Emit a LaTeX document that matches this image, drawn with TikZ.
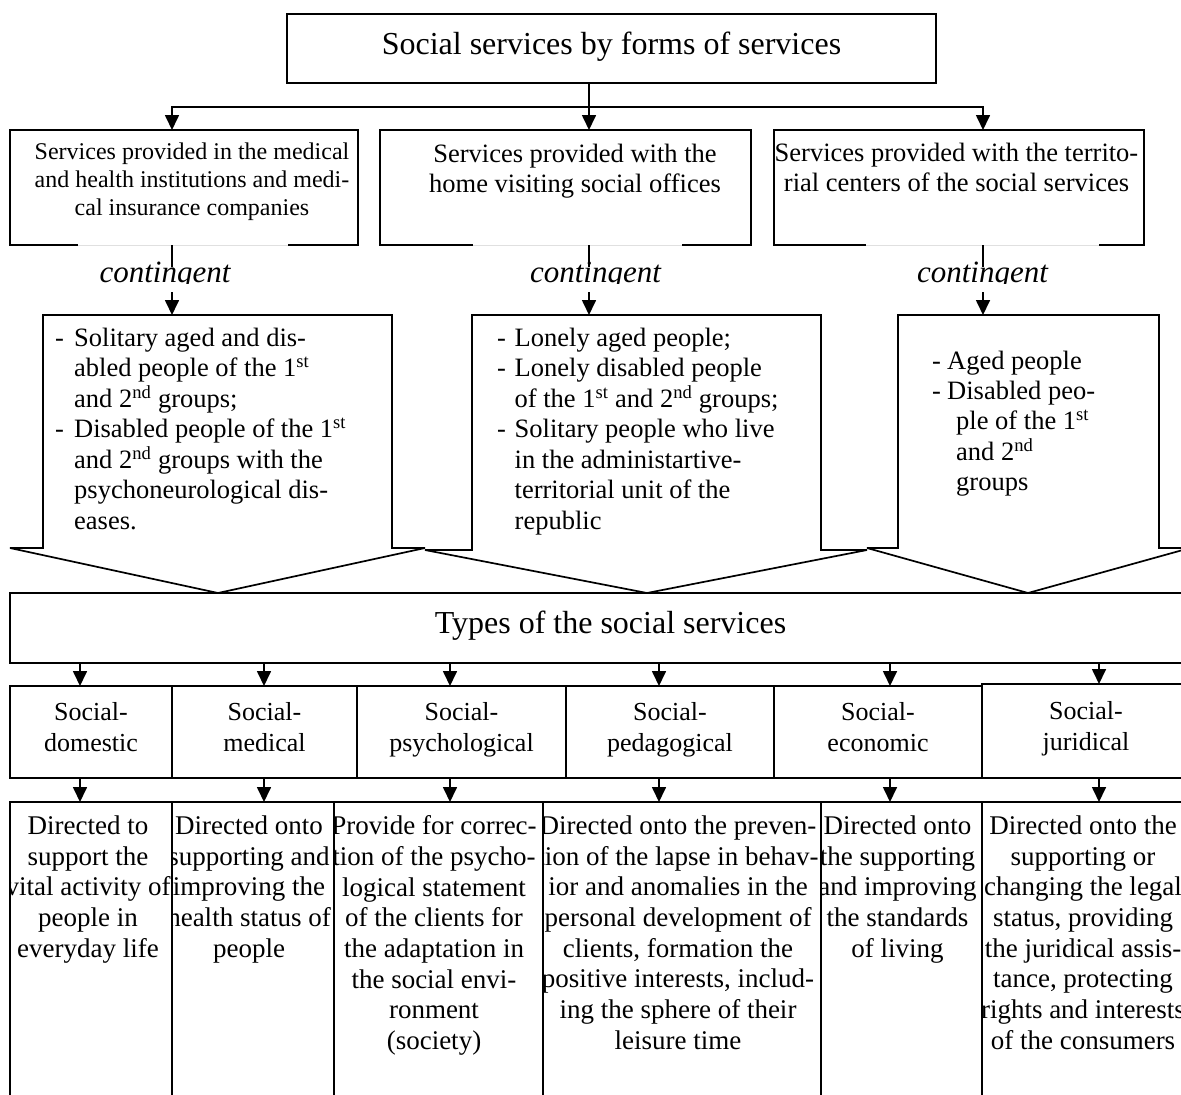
\documentclass[tikz,border=0pt]{standalone}
\usepackage{fontspec}
\setmainfont{Liberation Serif}
\usetikzlibrary{arrows.meta}
\begin{document}
\begin{tikzpicture}[x=1pt,y=-1pt,
  lw/.style={line width=1.7pt},
  frame/.style={draw, line width=1.7pt, inner sep=0pt, outer sep=0pt, anchor=north west},
  body/.style={inner sep=0pt, outer sep=0pt, anchor=north west},
  arr/.style={line width=1.7pt, -{Triangle[width=14pt,length=15pt]}},
  big/.style={anchor=base, inner sep=0pt, font=\fontsize{32}{36}\selectfont},
  stext/.style={anchor=north, align=center, inner sep=0pt, execute at begin node=\strut},
  cont/.style={anchor=base, inner sep=0pt, text height=15pt, text depth=10pt, font=\itshape\fontsize{31}{36}\selectfont},
  ctext/.style={anchor=north west, align=left, inner sep=0pt, execute at begin node=\strut},
  tbox/.style={frame, minimum height=92pt, align=center, font=\fontsize{26}{31}\selectfont, execute at begin node=\strut, execute at end node=\strut},
  dbox/.style={frame, minimum height=308pt},
  dtext/.style={anchor=north, align=center, inner sep=0pt, font=\fontsize{27}{30.7}\selectfont, execute at begin node=\strut},
  wing/.style={line width=1.7pt, line join=miter, miter limit=1.5},
  faint/.style={black!12, line width=0.8pt}
]
\clip (0,0) rectangle (1181,1095);
\fill[white] (0,0) rectangle (1181,1095);

% ---------- top ----------
\node[frame, minimum width=649pt, minimum height=69pt] (top) at (287,14) {};
\node[big] (title) at (611.5,54) {Social services by forms of services};

% ---------- service boxes ----------
\node[frame, minimum width=348pt, minimum height=115pt] (s1) at (10,130) {};
\node[frame, minimum width=371pt, minimum height=115pt] (s2) at (380,130) {};
\node[frame, minimum width=370pt, minimum height=115pt] (s3) at (774,130) {};
\fill[white] (78,242.5) rectangle (288,247.6);
\fill[white] (473,242.5) rectangle (682,247.6);
\fill[white] (866,242.5) rectangle (1099,247.6);
\draw[faint] (78,245) -- (288,245);
\draw[faint] (473,245) -- (682,245);
\draw[faint] (866,245) -- (1099,245);

\node[stext, font=\fontsize{24}{28}\selectfont] (st1) at (192,142.4)
  {Services provided in the medical\\and health institutions and medi-\\cal insurance companies};
\node[stext, font=\fontsize{26.5}{30}\selectfont] (st2) at (575,144)
  {Services provided with the\\home visiting social offices};
\node[stext, font=\fontsize{26.5}{30.5}\selectfont] (st3) at (956.5,142.6)
  {Services provided with the territo-\\rial centers of the social services};

\coordinate (hub) at (589,107);
\coordinate (a1) at (172,0);
\coordinate (a2) at (589,0);
\coordinate (a3) at (983,0);
\draw[lw] (top.south -| hub) -- (hub);
\draw[arr] (hub) -| (a1 |- s1.north);
\draw[arr] (hub) -- (a2 |- s2.north);
\draw[arr] (hub) -| (a3 |- s3.north);

% ---------- contingent labels ----------
\begin{scope}
  \clip (0,250) rectangle (1181,283.5);
  \node[cont] (k1) at (165,282) {contingent};
  \node[cont] (k2) at (595.5,282) {contingent};
  \node[cont] (k3) at (982.5,282) {contingent};
\end{scope}

% ---------- callouts ----------
\node[body, minimum width=349pt, minimum height=233pt] (c1) at (43,315) {};
\node[body, minimum width=349pt, minimum height=235pt] (c2) at (472,315) {};
\node[body, minimum width=261pt, minimum height=233pt] (c3) at (898,315) {};
\coordinate (tip1) at (218,593);
\coordinate (tip2) at (647,593);
\coordinate (tip3) at (1028,593);

\draw[wing] ([xshift=-33pt]c1.south west) -- (c1.south west) -- (c1.north west)
  -- (c1.north east) -- (c1.south east) -- ([xshift=33pt]c1.south east) -- (tip1) -- cycle;
\draw[wing] ([xshift=-47pt]c2.south west) -- (c2.south west) -- (c2.north west)
  -- (c2.north east) -- (c2.south east) -- ([xshift=46pt]c2.south east) -- (tip2) -- cycle;
\draw[wing] ([xshift=-31pt]c3.south west) -- (c3.south west) -- (c3.north west)
  -- (c3.north east) -- (c3.south east) -- ([xshift=31pt]c3.south east) -- (tip3) -- cycle;

\draw[lw] (a1 |- s1.south) -- (a1 |- k1.north);
\draw[arr] (a1 |- k1.south) -- (a1 |- c1.north);
\draw[lw] (a2 |- s2.south) -- (a2 |- k2.north);
\draw[arr] (a2 |- k2.south) -- (a2 |- c2.north);
\draw[lw] (a3 |- s3.south) -- (a3 |- k3.north);
\draw[arr] (a3 |- k3.south) -- (a3 |- c3.north);

\node[ctext, font=\fontsize{26.5}{30.5}\selectfont] (ct1) at (55,327.6)
  {\makebox[19pt][l]{-}Solitary aged and dis-\\
   \hspace*{19pt}abled people of the 1\textsuperscript{st}\\
   \hspace*{19pt}and 2\textsuperscript{nd} groups;\\
   \makebox[19pt][l]{-}Disabled people of the 1\textsuperscript{st}\\
   \hspace*{19pt}and 2\textsuperscript{nd} groups with the\\
   \hspace*{19pt}psychoneurological dis-\\
   \hspace*{19pt}eases.};
\node[ctext, font=\fontsize{26.5}{30.5}\selectfont] (ct2) at (497,327.6)
  {\makebox[17.5pt][l]{-}Lonely aged people;\\
   \makebox[17.5pt][l]{-}Lonely disabled people\\
   \hspace*{17.5pt}of the 1\textsuperscript{st} and 2\textsuperscript{nd} groups;\\
   \makebox[17.5pt][l]{-}Solitary people who live\\
   \hspace*{17.5pt}in the administartive-\\
   \hspace*{17.5pt}territorial unit of the\\
   \hspace*{17.5pt}republic};
\node[ctext, font=\fontsize{26.5}{30.3}\selectfont] (ct3) at (932,350.8)
  {\makebox[15pt][l]{-}Aged people\\
   \makebox[15pt][l]{-}Disabled peo-\\
   \hspace*{24pt}ple of the 1\textsuperscript{st}\\
   \hspace*{24pt}and 2\textsuperscript{nd}\\
   \hspace*{24pt}groups};

% ---------- types ----------
\node[frame, minimum width=1185pt, minimum height=70pt] (ty) at (10,593) {};
\node[big] (tyt) at (610.5,633) {Types of the social services};

\node[tbox, minimum width=162pt] (tb1) at (10,686) {Social-\\domestic};
\node[tbox, minimum width=185pt] (tb2) at (172,686) {Social-\\medical};
\node[tbox, minimum width=209pt] (tb3) at (357,686) {Social-\\psychological};
\node[tbox, minimum width=208pt] (tb4) at (566,686) {Social-\\pedagogical};
\node[tbox, minimum width=208pt] (tb5) at (774,686) {Social-\\economic};
\node[tbox, minimum width=208pt, minimum height=94pt] (tb6) at (982,684) {Social-\\juridical};

% ---------- descriptions ----------
\node[dbox, minimum width=162pt] (d1) at (10,802) {};
\node[dbox, minimum width=162pt] (d2) at (172,802) {};
\node[dbox, minimum width=209pt] (d3) at (334,802) {};
\node[dbox, minimum width=278pt] (d4) at (543,802) {};
\node[dbox, minimum width=161pt] (d5) at (821,802) {};
\node[dbox, minimum width=208pt] (d6) at (982,802) {};

\begin{scope}
  \clip ([xshift=0.85pt]d1.north west) rectangle ([xshift=-0.85pt]d1.south east);
  \node[dtext] (e1) at (88,815.5) {Directed to\\support the\\vital activity of\\people in\\everyday life};
\end{scope}
\begin{scope}
  \clip ([xshift=0.85pt]d2.north west) rectangle ([xshift=-0.85pt]d2.south east);
  \node[dtext] (e2) at (249,815.5) {Directed onto\\supporting and\\improving the\\health status of\\people};
\end{scope}
\begin{scope}
  \clip ([xshift=0.85pt]d3.north west) rectangle ([xshift=-0.85pt]d3.south east);
  \node[dtext] (e3) at (434,815.5) {Provide for correc-\\tion of the psycho-\\logical statement\\of the clients for\\the adaptation in\\the social envi-\\ronment\\(society)};
\end{scope}
\begin{scope}
  \clip ([xshift=0.85pt]d4.north west) rectangle ([xshift=-0.85pt]d4.south east);
  \node[dtext] (e4) at (678,815.5) {Directed onto the preven-\\tion of the lapse in behav-\\ior and anomalies in the\\personal development of\\clients, formation the\\positive interests, includ-\\ing the sphere of their\\leisure time};
\end{scope}
\begin{scope}
  \clip ([xshift=0.85pt]d5.north west) rectangle ([xshift=-0.85pt]d5.south east);
  \node[dtext] (e5) at (897.5,815.5) {Directed onto\\the supporting\\and improving\\the standards\\of living};
\end{scope}
\begin{scope}
  \clip ([xshift=0.85pt]d6.north west) rectangle ([xshift=-0.85pt]d6.south east);
  \node[dtext] (e6) at (1083,815.5) {Directed onto the\\supporting or\\changing the legal\\status, providing\\the juridical assis-\\tance, protecting\\rights and interests\\of the consumers};
\end{scope}

% ---------- arrows to types and descriptions ----------
\coordinate (v1) at (80,0);
\coordinate (v2) at (264,0);
\coordinate (v3) at (450,0);
\coordinate (v4) at (659,0);
\coordinate (v5) at (890,0);
\coordinate (v6) at (1099,0);
\draw[arr] (v1 |- ty.south) -- (v1 |- tb1.north);
\draw[arr] (v2 |- ty.south) -- (v2 |- tb2.north);
\draw[arr] (v3 |- ty.south) -- (v3 |- tb3.north);
\draw[arr] (v4 |- ty.south) -- (v4 |- tb4.north);
\draw[arr] (v5 |- ty.south) -- (v5 |- tb5.north);
\draw[arr] (v6 |- ty.south) -- (v6 |- tb6.north);
\draw[arr] (v1 |- tb1.south) -- (v1 |- d1.north);
\draw[arr] (v2 |- tb2.south) -- (v2 |- d2.north);
\draw[arr] (v3 |- tb3.south) -- (v3 |- d3.north);
\draw[arr] (v4 |- tb4.south) -- (v4 |- d4.north);
\draw[arr] (v5 |- tb5.south) -- (v5 |- d5.north);
\draw[arr] (v6 |- tb6.south) -- (v6 |- d6.north);
\end{tikzpicture}
\end{document}
